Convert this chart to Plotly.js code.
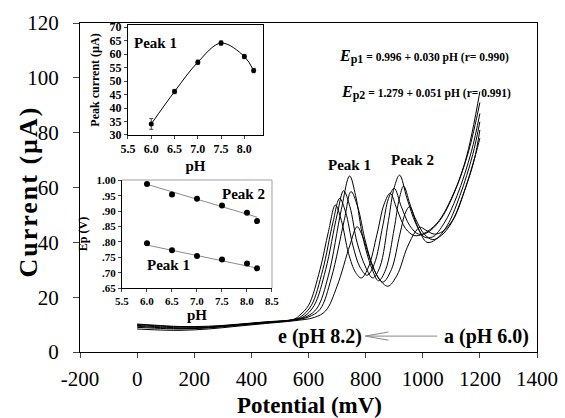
<!DOCTYPE html>
<html>
<head>
<meta charset="utf-8">
<script src="https://cdn.plot.ly/plotly-3.0.1.min.js"></script>
<style>
html,body{margin:0;padding:0;background:#fff;}
#chart{width:565px;height:418px;}
</style>
</head>
<body>
<div id="chart"></div>
<script>
// ---------- Main voltammograms (potential in mV, current in µA) ----------
var c1x = [0, 60, 150, 250, 350, 450, 550, 620, 660, 700, 745, 770, 790, 815, 845, 878, 910, 945, 975, 991, 1010, 1040, 1070, 1110, 1150, 1185, 1200];
var c1y = [8.4, 8.1, 7.9, 8.4, 9.4, 10.4, 11.4, 12.6, 15, 24, 39, 45.7, 42, 34, 27, 24, 28, 38, 44, 45.5, 44.5, 43, 44, 49, 60, 72, 78];

var c2x = [0, 60, 150, 250, 350, 450, 550, 600, 640, 680, 725, 749, 772, 800, 830, 860, 890, 920, 940, 954, 975, 1005, 1035, 1065, 1100, 1140, 1180, 1200];
var c2y = [9.0, 8.7, 8.4, 8.8, 9.7, 10.6, 11.6, 12.8, 15.5, 27, 48, 58.5, 53, 40, 30, 25.5, 30, 43, 51, 53, 48.5, 43, 41, 42.5, 47, 57, 70, 81];

var c3x = [0, 60, 150, 250, 350, 450, 550, 595, 630, 670, 715, 744, 765, 790, 820, 845, 870, 900, 918, 933, 955, 985, 1015, 1045, 1085, 1130, 1175, 1200];
var c3y = [9.4, 9.0, 8.6, 8.9, 9.8, 10.7, 11.7, 13, 16, 28, 52, 64.2, 57, 42, 31, 26, 30, 45, 56, 60.5, 54, 45, 40, 41, 46, 57, 72, 84];

var c4x = [0, 60, 150, 250, 350, 450, 550, 585, 620, 660, 700, 723, 745, 770, 800, 825, 850, 880, 900, 919, 945, 975, 1005, 1035, 1075, 1120, 1170, 1200];
var c4y = [9.7, 9.3, 8.8, 9.0, 9.9, 10.8, 11.8, 13, 17, 30, 50, 58.8, 53, 40, 31, 27, 31, 48, 60, 64.5, 56, 47, 42, 42, 47, 57, 73, 87];

var c5x = [0, 60, 150, 250, 350, 450, 550, 575, 610, 650, 685, 709, 730, 755, 780, 805, 830, 860, 880, 900, 925, 955, 985, 1015, 1060, 1110, 1160, 1200];
var c5y = [10.0, 9.6, 9.1, 9.2, 10.0, 10.9, 11.9, 13, 17, 30, 47, 56, 51, 39, 31, 28, 32, 46, 56, 59.7, 53, 46, 43, 43.5, 48, 58, 73, 91];

var c6x = [0, 60, 150, 250, 350, 450, 550, 570, 600, 640, 670, 694, 715, 740, 765, 785, 810, 840, 865, 886, 910, 940, 970, 1000, 1050, 1100, 1150, 1200];
var c6y = [10.2, 9.8, 9.3, 9.4, 10.1, 11.0, 12.0, 13.5, 17, 30, 44, 53.6, 48, 36, 29, 27, 31, 43, 54, 57.9, 52, 45, 42.5, 43, 47, 56, 70, 95];

// ---------- Upper inset: peak current vs pH ----------
var insetPH = [6.0, 6.5, 7.0, 7.5, 8.0, 8.2];
var peakCurrent = [34.1, 46.1, 57.0, 64.1, 59.1, 53.9];
var peakCurrentErr = [2.0, 0.8, 0.8, 0.8, 0.8, 0.8];

// ---------- Lower inset: Ep vs pH ----------
var ep2 = [0.989, 0.955, 0.941, 0.919, 0.895, 0.868];
var ep1 = [0.796, 0.773, 0.754, 0.743, 0.730, 0.714];
var fitPH = [6.0, 8.2];
var fit2 = [0.988, 0.881];
var fit1 = [0.790, 0.715];

// ---------- Tick labels ----------
var xTicks = [-200, 0, 200, 400, 600, 800, 1000, 1200, 1400];
var xTickText = ['-200', '0', '200', '400', '600', '800', '1000', '1200', '1400'];
var yTicks = [0, 20, 40, 60, 80, 100, 120];
var inset1XTicks = [5.5, 6.0, 6.5, 7.0, 7.5, 8.0];
var inset1XText = ['5.5', '6.0', '6.5', '7.0', '7.5', '8.0'];
var inset1YTicks = [30, 35, 40, 45, 50, 55, 60, 65, 70];
var inset2XTicks = [5.5, 6.0, 6.5, 7.0, 7.5, 8.0, 8.5];
var inset2XText = ['5.5', '6.0', '6.5', '7.0', '7.5', '8.0', '8.5'];
var inset2YTicks = [0.65, 0.70, 0.75, 0.80, 0.85, 0.90, 0.95, 1.00];
var inset2YText = ['.65', '.70', '.75', '.80', '.85', '.90', '.95', '1.00'];

var FONT = 'Liberation Serif, Times New Roman, serif';
var curveLine = {color: '#000', width: 1, shape: 'spline', smoothing: 1};

var curves = [[c1x, c1y], [c2x, c2y], [c3x, c3y], [c4x, c4y], [c5x, c5y], [c6x, c6y]];
var data = curves.map(function (c) {
  return {x: c[0], y: c[1], type: 'scatter', mode: 'lines', line: curveLine,
          xaxis: 'x', yaxis: 'y', hoverinfo: 'skip', showlegend: false};
});

data.push({
  x: insetPH, y: peakCurrent, type: 'scatter', mode: 'lines+markers',
  line: {color: '#000', width: 1, shape: 'spline', smoothing: 1},
  marker: {color: '#000', size: 5},
  error_y: {type: 'data', array: peakCurrentErr, visible: true, color: '#444', thickness: 1, width: 2},
  xaxis: 'x2', yaxis: 'y2', showlegend: false, hoverinfo: 'skip'
});
data.push({x: fitPH, y: fit2, type: 'scatter', mode: 'lines', line: {color: '#8a8a8a', width: 1},
  xaxis: 'x3', yaxis: 'y3', showlegend: false, hoverinfo: 'skip'});
data.push({x: fitPH, y: fit1, type: 'scatter', mode: 'lines', line: {color: '#8a8a8a', width: 1},
  xaxis: 'x3', yaxis: 'y3', showlegend: false, hoverinfo: 'skip'});
data.push({x: insetPH, y: ep2, type: 'scatter', mode: 'markers', marker: {color: '#000', size: 6},
  xaxis: 'x3', yaxis: 'y3', showlegend: false, hoverinfo: 'skip'});
data.push({x: insetPH, y: ep1, type: 'scatter', mode: 'markers', marker: {color: '#000', size: 6},
  xaxis: 'x3', yaxis: 'y3', showlegend: false, hoverinfo: 'skip'});

var insetTickFont1 = {family: FONT, size: 12, color: '#000', weight: 'bold'};
var insetTickFont2 = {family: FONT, size: 11, color: '#000', weight: 'bold'};

var layout = {
  width: 565, height: 418,
  margin: {l: 80, r: 28, t: 23, b: 66, pad: 0},
  paper_bgcolor: '#fff', plot_bgcolor: '#fff',
  font: {family: FONT, color: '#000'},
  showlegend: false,
  xaxis: {
    domain: [0, 1], range: [-200, 1400], tickvals: xTicks, ticktext: xTickText, ticks: 'outside', ticklen: 5,
    showline: true, linecolor: '#000', linewidth: 1, mirror: true, showgrid: false, zeroline: false,
    tickfont: {family: FONT, size: 21, color: '#000'}, ticklabelstandoff: 3
  },
  yaxis: {
    domain: [0, 1], range: [0, 120], tickvals: yTicks, ticks: 'outside', ticklen: 6,
    showline: true, linecolor: '#000', linewidth: 1, mirror: true, showgrid: false, zeroline: false,
    tickfont: {family: FONT, size: 21, color: '#000'}, ticklabelstandoff: 10
  },
  xaxis2: {
    domain: [0.105, 0.4004], range: [5.5, 8.4], anchor: 'y2', tickvals: inset1XTicks, ticktext: inset1XText,
    ticks: 'outside', ticklen: 3, showline: true, linecolor: '#000', linewidth: 1, mirror: true,
    showgrid: false, zeroline: false, tickfont: insetTickFont1,
    title: {text: '<b>pH</b>', font: {family: FONT, size: 15, color: '#000'}, standoff: 5}
  },
  yaxis2: {
    domain: [0.6596, 0.9939], range: [30, 70.8], anchor: 'x2', tickvals: inset1YTicks,
    ticks: 'outside', ticklen: 3, showline: true, linecolor: '#000', linewidth: 1, mirror: true,
    showgrid: false, zeroline: false, tickfont: insetTickFont1,
    title: {text: '<b>Peak current (µA)</b>', font: {family: FONT, size: 12, color: '#000'}, standoff: 7}
  },
  xaxis3: {
    domain: [0.0919, 0.4201], range: [5.5, 8.5], anchor: 'y3', tickvals: inset2XTicks, ticktext: inset2XText,
    ticks: 'outside', ticklen: 3, showline: true, linecolor: '#000', linewidth: 1, mirror: false,
    showgrid: false, zeroline: false, tickfont: insetTickFont2,
    title: {text: '<b>pH</b>', font: {family: FONT, size: 15, color: '#000'}, standoff: 0}
  },
  yaxis3: {
    domain: [0.1945, 0.5228], range: [0.65, 1.002], anchor: 'x3', tickvals: inset2YTicks, ticktext: inset2YText,
    ticks: 'outside', ticklen: 3, showline: true, linecolor: '#000', linewidth: 1, mirror: false,
    showgrid: false, zeroline: false, tickfont: insetTickFont2,
    title: {text: '<b>Ep (V)</b>', font: {family: FONT, size: 12, color: '#000'}, standoff: 6}
  },
  shapes: [
    {type: 'path', xref: 'paper', yref: 'paper', path: 'M0.0919,0.5228 L0.4201,0.5228 L0.4201,0.1945',
     line: {color: '#a0a0a0', width: 1}},
    {type: 'line', xref: 'x', yref: 'y', x0: 799, y0: 5.8, x1: 1051, y1: 5.8, line: {color: '#888', width: 1}},
    {type: 'line', xref: 'x', yref: 'y', x0: 799, y0: 5.8, x1: 880, y1: 7.3, line: {color: '#888', width: 1}},
    {type: 'line', xref: 'x', yref: 'y', x0: 799, y0: 5.8, x1: 880, y1: 4.3, line: {color: '#888', width: 1}}
  ],
  annotations: [
    // main axis titles
    {x: 0.502, y: -0.163, xref: 'paper', yref: 'paper', xanchor: 'center', yanchor: 'middle',
     text: '<b>Potential (mV)</b>', showarrow: false,
     font: {family: FONT, size: 23, color: '#000'}},
    {x: -0.112, y: 0.487, xref: 'paper', yref: 'paper', xanchor: 'center', yanchor: 'middle', textangle: -90,
     text: '<b><span style="letter-spacing:2px">Current (µA)</span></b>', showarrow: false,
     font: {family: FONT, size: 26, color: '#000'}},
    {x: 743, y: 68.2, xref: 'x', yref: 'y', text: '<b>Peak 1</b>', showarrow: false,
     font: {family: FONT, size: 15, color: '#000'}},
    {x: 963, y: 70.0, xref: 'x', yref: 'y', text: '<b>Peak 2</b>', showarrow: false,
     font: {family: FONT, size: 15, color: '#000'}},
    {x: 699, y: 107.8, xref: 'x', yref: 'y', xanchor: 'left',
     text: '<b><span style="font-size:16px"><i>E</i></span><sub><span style="font-size:12px">p1</span></sub> = 0.996 + 0.030 pH (r= 0.990)</b>',
     showarrow: false, font: {family: FONT, size: 11.5, color: '#000'}},
    {x: 706, y: 94.8, xref: 'x', yref: 'y', xanchor: 'left',
     text: '<b><span style="font-size:16px"><i>E</i></span><sub><span style="font-size:12px">p2</span></sub> = 1.279 + 0.051 pH (r= 0.991)</b>',
     showarrow: false, font: {family: FONT, size: 11.5, color: '#000'}},
    {x: 641, y: 5.8, xref: 'x', yref: 'y', text: '<b>e (pH 8.2)</b>', showarrow: false,
     font: {family: FONT, size: 20, color: '#000'}},
    {x: 1222, y: 5.8, xref: 'x', yref: 'y', text: '<b>a (pH 6.0)</b>', showarrow: false,
     font: {family: FONT, size: 20, color: '#000'}},
    {x: 5.586, y: 64.2, xref: 'x2', yref: 'y2', xanchor: 'left', text: '<b>Peak 1</b>', showarrow: false,
     font: {family: FONT, size: 15, color: '#000'}},
    {x: 7.93, y: 0.957, xref: 'x3', yref: 'y3', text: '<b>Peak 2</b>', showarrow: false,
     font: {family: FONT, size: 15, color: '#000'}},
    {x: 6.44, y: 0.724, xref: 'x3', yref: 'y3', text: '<b>Peak 1</b>', showarrow: false,
     font: {family: FONT, size: 15, color: '#000'}}
  ]
};

Plotly.newPlot('chart', data, layout, {displayModeBar: false, staticPlot: true});
</script>
</body>
</html>
